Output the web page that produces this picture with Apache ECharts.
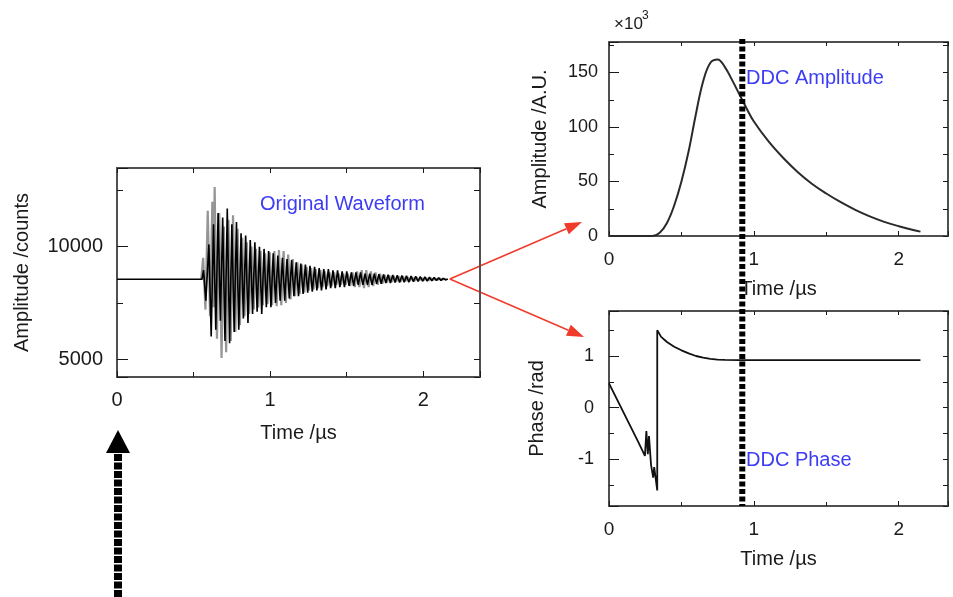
<!DOCTYPE html>
<html>
<head>
<meta charset="utf-8">
<script src="https://cdn.jsdelivr.net/npm/echarts@6/dist/echarts.min.js"></script>
<style>
  html, body { margin: 0; background: #fff; }
  #main { width: 953px; height: 597px; }
</style>
</head>
<body>
<div id="main"></div>
<script>
// ---- data ----
// original waveform, two overlaid channels: [time /us, counts]
var grayWave = [[0.55,8550],[0.5625,9500],[0.5775,7200],[0.5925,11600],[0.6075,6900],[0.6225,12000],[0.63,7300],[0.6375,12650],[0.6525,5900],[0.6675,11500],[0.6825,5050],[0.6975,10900],[0.7125,5300],[0.7275,11200],[0.7425,5800],[0.7575,11400],[0.7725,6200],[0.7875,10800],[0.8025,6500],[0.8175,10400],[0.8325,6900],[0.8475,10200],[0.8625,7000],[0.8775,10000],[0.8925,7200],[0.9075,9900],[0.9225,7300],[0.9375,9800],[0.9525,7400],[0.9675,9700],[0.9825,7450],[0.9975,9750],[1.0125,7400],[1.0275,9800],[1.0425,7350],[1.0575,9850],[1.0725,7400],[1.0875,9800],[1.1025,7500],[1.1175,9650],[1.1325,7650],[1.1475,9450],[1.1625,7800],[1.1775,9300],[1.1925,7900],[1.2075,9200],[1.2225,7950],[1.2375,9100],[1.2525,8050],[1.2675,9050],[1.2825,8100],[1.2975,9000],[1.3125,8150],[1.3275,8950],[1.3425,8200],[1.3575,8900],[1.3725,8250],[1.3875,8850],[1.4025,8250],[1.4175,8850],[1.4325,8300],[1.4475,8800],[1.4625,8300],[1.4775,8800],[1.4925,8300],[1.5075,8800],[1.5225,8250],[1.5375,8850],[1.5525,8200],[1.5675,8900],[1.5825,8200],[1.5975,8950],[1.6125,8150],[1.6275,8950],[1.6425,8200],[1.6575,8900],[1.6725,8250],[1.6875,8850],[1.7025,8300],[1.7175,8800],[1.7325,8350],[1.7475,8750],[1.7625,8400],[1.7775,8720],[1.7925,8420],[1.8075,8700],[1.8225,8430],[1.8375,8680],[1.8525,8450],[1.8675,8670],[1.8825,8460],[1.8975,8650],[1.9125,8470],[1.9275,8640],[1.9425,8480],[1.9575,8630],[1.9725,8490],[1.9875,8620],[2.0025,8500],[2.0175,8610],[2.0325,8500],[2.0475,8600],[2.0625,8510],[2.0775,8590],[2.0925,8520],[2.1075,8580],[2.1225,8530],[2.1375,8570],[2.15,8550]];

var blackWave = [[0,8550],[0.555,8550],[0.565,8950],[0.58,7600],[0.60,10100],[0.615,6000],[0.63,11000],[0.645,6300],[0.66,11500],[0.675,6700],[0.69,11300],[0.705,5800],[0.72,11700],[0.735,5700],[0.75,11000],[0.765,6200],[0.78,11100],[0.795,6300],[0.81,10600],[0.825,6800],[0.84,10500],[0.855,6600],[0.87,10300],[0.885,7000],[0.90,10200],[0.915,7100],[0.93,10000],[0.945,7000],[0.96,9900],[0.975,7300],[0.99,9800],[1.005,7300],[1.02,9700],[1.035,7500],[1.05,9600],[1.065,7600],[1.08,9500],[1.095,7600],[1.11,9450],[1.125,7700],[1.14,9400],[1.155,7800],[1.17,9300],[1.185,7800],[1.20,9250],[1.215,7900],[1.23,9200],[1.245,7950],[1.26,9150],[1.275,8000],[1.29,9100],[1.305,8050],[1.32,9050],[1.335,8050],[1.35,9000],[1.365,8100],[1.38,9000],[1.395,8150],[1.41,8950],[1.425,8150],[1.44,8950],[1.455,8200],[1.47,8900],[1.485,8200],[1.50,8900],[1.515,8250],[1.53,8850],[1.545,8250],[1.56,8850],[1.575,8300],[1.59,8850],[1.605,8300],[1.62,8800],[1.635,8300],[1.65,8800],[1.665,8300],[1.68,8800],[1.695,8350],[1.71,8780],[1.725,8350],[1.74,8760],[1.755,8380],[1.77,8750],[1.785,8380],[1.80,8740],[1.815,8400],[1.83,8730],[1.845,8400],[1.86,8720],[1.875,8420],[1.89,8700],[1.905,8420],[1.92,8690],[1.935,8440],[1.95,8680],[1.965,8450],[1.98,8670],[1.995,8460],[2.01,8650],[2.025,8470],[2.04,8640],[2.055,8480],[2.07,8630],[2.085,8490],[2.10,8610],[2.115,8500],[2.13,8590],[2.145,8520],[2.16,8560]];

// DDC amplitude (x10^3 A.U.)
var ampTime  = [0, 0.30, 0.35, 0.40, 0.45, 0.50, 0.55, 0.60, 0.65, 0.70, 0.75, 0.80, 0.85, 0.90, 0.95, 1.00, 1.10, 1.20, 1.30, 1.40, 1.50, 1.60, 1.70, 1.80, 1.90, 2.00, 2.10, 2.15];
var ampValue = [0, 0, 3, 12, 28, 50, 78, 112, 142, 159, 162, 155, 143, 130, 117, 105, 87, 72, 59, 48, 39, 31, 24, 18, 13, 9, 5.5, 4];

// DDC phase (rad)
var phaseTime  = [0, 0.05, 0.10, 0.15, 0.20, 0.248, 0.258, 0.268, 0.276, 0.29, 0.305, 0.312, 0.333, 0.333, 0.336, 0.36, 0.40, 0.45, 0.50, 0.55, 0.60, 0.65, 0.70, 0.75, 0.80, 0.90, 1.00, 1.50, 2.00, 2.15];
var phaseValue = [0.47, 0.19, -0.09, -0.37, -0.65, -0.93, -0.45, -0.9, -0.55, -1.1, -1.35, -1.15, -1.6, 1.5, 1.47, 1.37, 1.27, 1.18, 1.11, 1.05, 1.0, 0.97, 0.945, 0.93, 0.925, 0.92, 0.92, 0.92, 0.92, 0.92];

var markerTime = 0.92;

// tick labels
var timeLabels  = [0, 1, 2];
var countLabels = [5000, 10000];
var ampLabels   = [0, 50, 100, 150];
var phaseLabels = [-1, 0, 1];

// ---- chart ----
var FONT = '"Liberation Sans", Arial, sans-serif';
var frameColor = '#505050';
var ink = '#1a1a1a';

var grids = [
  { left: 117, top: 168, width: 363, height: 209 },
  { left: 609, top: 42, width: 339, height: 194 },
  { left: 609, top: 311, width: 339, height: 195 }
];

function zip(a, b) {
  return a.map(function (v, i) { return [v, b[i]]; });
}

function pick(labels) {
  return function (v) {
    for (var i = 0; i < labels.length; i++) {
      if (Math.abs(v - labels[i]) < 1e-9) return String(labels[i]);
    }
    return '';
  };
}

// three axes per side pair: labelled main axis, minor tick axis, opposite frame axis
function axisSet(dim, g, o) {
  var sideA = dim === 'x' ? 'bottom' : 'left';
  var sideB = dim === 'x' ? 'top' : 'right';
  function base(pos, step, len) {
    return {
      type: 'value', gridIndex: g, position: pos,
      min: o.min, max: o.max,
      minInterval: step, maxInterval: step,
      splitNumber: Math.max(1, Math.round((o.max - o.min) / step)),
      splitLine: { show: false },
      axisLine: { show: false, onZero: false },
      axisLabel: { show: false },
      axisTick: { show: true, inside: true, length: len, lineStyle: { color: ink, width: 1 } },
      silent: true
    };
  }
  var main = base(sideA, o.major, o.majorLen);
  main.axisLine = { show: true, onZero: false, lineStyle: { color: frameColor, width: 2 } };
  main.axisLabel = {
    show: true, margin: o.margin, fontSize: o.labelSize, color: ink,
    fontFamily: FONT, formatter: pick(o.labels)
  };
  main.name = o.name;
  main.nameLocation = 'middle';
  main.nameGap = o.nameGap;
  main.nameTextStyle = { fontSize: o.nameSize, color: ink, fontFamily: FONT };
  var minor = base(sideA, o.minor, o.minorLen);
  var opp = base(sideB, o.minor, o.minorLen);
  opp.axisLine = { show: true, onZero: false, lineStyle: { color: frameColor, width: 2 } };
  return [main, minor, opp];
}

var xAxes = [].concat(
  axisSet('x', 0, { min: 0, max: 2.37, major: 1, minor: 0.5, majorLen: 6, minorLen: 5, labels: timeLabels, labelSize: 20, margin: 13, name: 'Time /µs', nameGap: 46, nameSize: 20 }),
  axisSet('x', 1, { min: 0, max: 2.34, major: 1, minor: 0.5, majorLen: 5, minorLen: 4, labels: timeLabels, labelSize: 19, margin: 14, name: 'Time /µs', nameGap: 43, nameSize: 20 }),
  axisSet('x', 2, { min: 0, max: 2.34, major: 1, minor: 0.5, majorLen: 5, minorLen: 4, labels: timeLabels, labelSize: 19, margin: 14, name: 'Time /µs', nameGap: 43, nameSize: 20 })
);
var yAxes = [].concat(
  axisSet('y', 0, { min: 4200, max: 13500, major: 5000, minor: 2500, majorLen: 11, minorLen: 6, labels: countLabels, labelSize: 20, margin: 14, name: 'Amplitude /counts', nameGap: 85, nameSize: 20 }),
  axisSet('y', 1, { min: 0, max: 178, major: 50, minor: 25, majorLen: 10, minorLen: 5, labels: ampLabels, labelSize: 18, margin: 11, name: 'Amplitude /A.U.', nameGap: 59, nameSize: 20 }),
  axisSet('y', 2, { min: -1.9, max: 1.87, major: 1, minor: 0.5, majorLen: 10, minorLen: 5, labels: phaseLabels, labelSize: 18, margin: 15, name: 'Phase /rad', nameGap: 62, nameSize: 20 })
);

var myChart = echarts.init(document.getElementById('main'), null, { renderer: 'canvas' });

var option = {
  animation: false,
  backgroundColor: '#fff',
  grid: grids.map(function (g) {
    return { left: g.left, top: g.top, width: g.width, height: g.height, outerBoundsMode: 'none' };
  }),
  xAxis: xAxes,
  yAxis: yAxes,
  series: [
    {
      name: 'channel B', type: 'line', xAxisIndex: 0, yAxisIndex: 0,
      data: grayWave, showSymbol: false, z: 2,
      lineStyle: { color: '#959595', width: 2.2 }
    },
    {
      name: 'channel A', type: 'line', xAxisIndex: 0, yAxisIndex: 0,
      data: blackWave, showSymbol: false, z: 3,
      lineStyle: { color: '#000', width: 1.6 }
    },
    {
      name: 'DDC amplitude', type: 'line', xAxisIndex: 3, yAxisIndex: 3,
      data: zip(ampTime, ampValue), showSymbol: false, smooth: 0.4,
      lineStyle: { color: '#2a2a2a', width: 2 }
    },
    {
      name: 'DDC phase', type: 'line', xAxisIndex: 6, yAxisIndex: 6,
      data: zip(phaseTime, phaseValue), showSymbol: false,
      lineStyle: { color: '#111', width: 1.8 }
    }
  ]
};

myChart.setOption(option);

// ---- annotations ----
function arrow(x0, y0, x1, y1, color, lw, hl, hw, dash) {
  var dx = x1 - x0, dy = y1 - y0, L = Math.sqrt(dx * dx + dy * dy);
  var ux = dx / L, uy = dy / L, px = -uy, py = ux;
  var bx = x1 - ux * hl, by = y1 - uy * hl;
  return [
    { type: 'line', silent: true, shape: { x1: x0, y1: y0, x2: bx, y2: by },
      style: { stroke: color, lineWidth: lw, lineDash: dash || null } },
    { type: 'polygon', silent: true,
      shape: { points: [[x1, y1], [bx + px * hw / 2, by + py * hw / 2], [bx - px * hw / 2, by - py * hw / 2]] },
      style: { fill: color } }
  ];
}

function label(text, x, y, color, size) {
  return { type: 'text', x: x, y: y, silent: true,
    style: { text: text, fill: color, font: size + 'px ' + FONT, align: 'left', verticalAlign: 'middle' } };
}

var mx = myChart.convertToPixel({ xAxisIndex: 3 }, markerTime);
var waveEnd = myChart.convertToPixel({ gridIndex: 0 }, blackWave[blackWave.length - 1]);
var zeroX = myChart.convertToPixel({ xAxisIndex: 0 }, 0);
var blue = '#3c3cf5';
var red = '#f03a2a';

var graphics = [
  label('Original Waveform', 260, 204, blue, 20),
  label('DDC Amplitude', 746, 78, blue, 20),
  label('DDC Phase', 746, 460, blue, 20),
  label('×10', 614, 24, ink, 17),
  label('3', 642, 16, ink, 12),
  { type: 'line', silent: true, z: 100,
    shape: { x1: mx, y1: 39, x2: mx, y2: grids[2].top + grids[2].height },
    style: { stroke: '#000', lineWidth: 6, lineDash: [5, 2.5] } }
]
  .concat(arrow(waveEnd[0] + 2, waveEnd[1], 582, 222, red, 1.5, 17, 12))
  .concat(arrow(waveEnd[0] + 2, waveEnd[1], 584, 337, red, 1.5, 17, 12))
  .concat(arrow(zeroX + 1, 597, zeroX + 1, 430, '#000', 8, 23, 24, [7, 1.5]));

myChart.setOption({ graphic: graphics });

window.addEventListener('resize', myChart.resize);
</script>
</body>
</html>
